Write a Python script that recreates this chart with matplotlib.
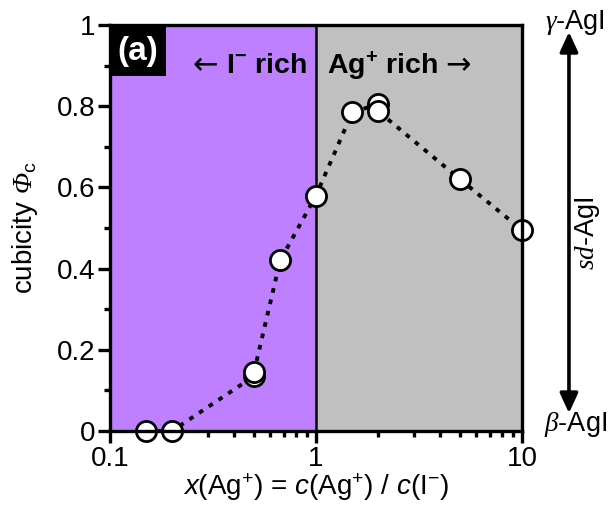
import matplotlib
matplotlib.use("Agg")
import matplotlib.pyplot as plt
from matplotlib.patches import Rectangle
from matplotlib.ticker import FixedLocator, NullFormatter, LogLocator
import numpy as np

plt.rcParams['font.family'] = ['Liberation Sans', 'DejaVu Sans']
plt.rcParams['mathtext.fontset'] = 'custom'
plt.rcParams['mathtext.rm'] = 'Liberation Sans'
plt.rcParams['mathtext.it'] = 'Liberation Sans:italic'
plt.rcParams['mathtext.bf'] = 'Liberation Sans:bold'
plt.rcParams['mathtext.sf'] = 'Liberation Serif:italic'

x_ratio = [0.15, 0.2, 0.5, 0.5, 0.67, 1.0, 1.5, 2.0, 2.0, 5.0, 10.0]
cubicity = [0.0, 0.0, 0.135, 0.145, 0.42, 0.58, 0.785, 0.805, 0.788, 0.62, 0.495]
y_ticks = [0, 0.2, 0.4, 0.6, 0.8, 1]
y_ticklabels = ['0', '0.2', '0.4', '0.6', '0.8', '1']
x_ticks = [0.1, 1, 10]
x_ticklabels = ['0.1', '1', '10']

fig = plt.figure(figsize=(6.13, 5.07), dpi=100)
ax = fig.add_axes([110/613, 76/507, 412/613, 406/507])

ax.set_xscale('log')
ax.set_xlim(0.1, 10)
ax.set_ylim(0, 1)
ax.axvspan(0.1, 1, color='#BF80FF', zorder=0)
ax.axvspan(1, 10, color='#C0C0C0', zorder=0)
ax.axvline(1, color='black', lw=1.8, zorder=1)

ax.plot(x_ratio, cubicity, linestyle=(0, (1.2, 1.8)), color='black', lw=2.8,
        marker='o', markersize=14.5, markerfacecolor='white', markeredgecolor='black',
        markeredgewidth=2.0, zorder=3, clip_on=False)

for s in ax.spines.values():
    s.set_linewidth(2.4)
    s.set_zorder(4)

ax.set_yticks(y_ticks)
ax.set_yticklabels(y_ticklabels)
ax.yaxis.set_minor_locator(FixedLocator([0.1, 0.3, 0.5, 0.7, 0.9]))
ax.set_xticks(x_ticks)
ax.set_xticklabels(x_ticklabels)
ax.xaxis.set_minor_locator(LogLocator(base=10, subs=np.arange(2, 10)))
ax.xaxis.set_minor_formatter(NullFormatter())
ax.tick_params(which='major', direction='out', length=8.5, width=2.4, labelsize=20, pad=2)
ax.tick_params(which='minor', direction='out', length=4, width=2.4)
ax.tick_params(top=False, right=False, which='both')

ax.set_xlabel(r'$x$(Ag$^{+}$) = $c$(Ag$^{+}$) / $c$(I$^{-}$)', fontsize=20, labelpad=0)
ax.set_ylabel(r'cubicity $\mathsf{\Phi}_{\rm c}$', fontsize=20, labelpad=12)

ax.add_patch(Rectangle((0.0, 0.874), 0.136, 0.126, transform=ax.transAxes,
                       facecolor='black', edgecolor='none', zorder=5))
ax.text(0.068, 0.935, '(a)', transform=ax.transAxes, fontsize=24, fontweight='bold',
        color='white', va='center', ha='center', zorder=6)

ty = 0.899
ax.text(0.231, ty, '←', transform=ax.transAxes, fontsize=22, family='DejaVu Sans',
        ha='center', va='center')
ax.text(0.478, ty, 'I$^{\\mathbf{-}}$ rich', transform=ax.transAxes, fontsize=20.5,
        fontweight='bold', ha='right', va='center')
ax.text(0.527, ty, 'Ag$^{\\mathbf{+}}$ rich', transform=ax.transAxes, fontsize=20.5,
        fontweight='bold', ha='left', va='center')
ax.text(0.845, ty, '→', transform=ax.transAxes, fontsize=22, family='DejaVu Sans',
        ha='center', va='center')

# right side annotations
ax.annotate('', xy=(1.114, 0.983), xytext=(1.114, 0.044), xycoords='axes fraction',
            textcoords='axes fraction', annotation_clip=False,
            arrowprops=dict(arrowstyle='<|-|>,head_length=1.2,head_width=0.55',
                            mutation_scale=10, color='black', lw=2.6,
                            shrinkA=0, shrinkB=0))
ax.text(1.129, 1.005, r'$\mathsf{\gamma}$-AgI', transform=ax.transAxes, fontsize=19.5,
        ha='center', va='center')
ax.text(1.129, 0.015, r'$\mathsf{\beta}$-AgI', transform=ax.transAxes, fontsize=19.5,
        ha='center', va='center')
ax.text(1.16, 0.488, r'$\mathsf{sd}$-AgI', transform=ax.transAxes, fontsize=19.5,
        ha='center', va='center', rotation=90)

fig.savefig('out.png', dpi=100)
